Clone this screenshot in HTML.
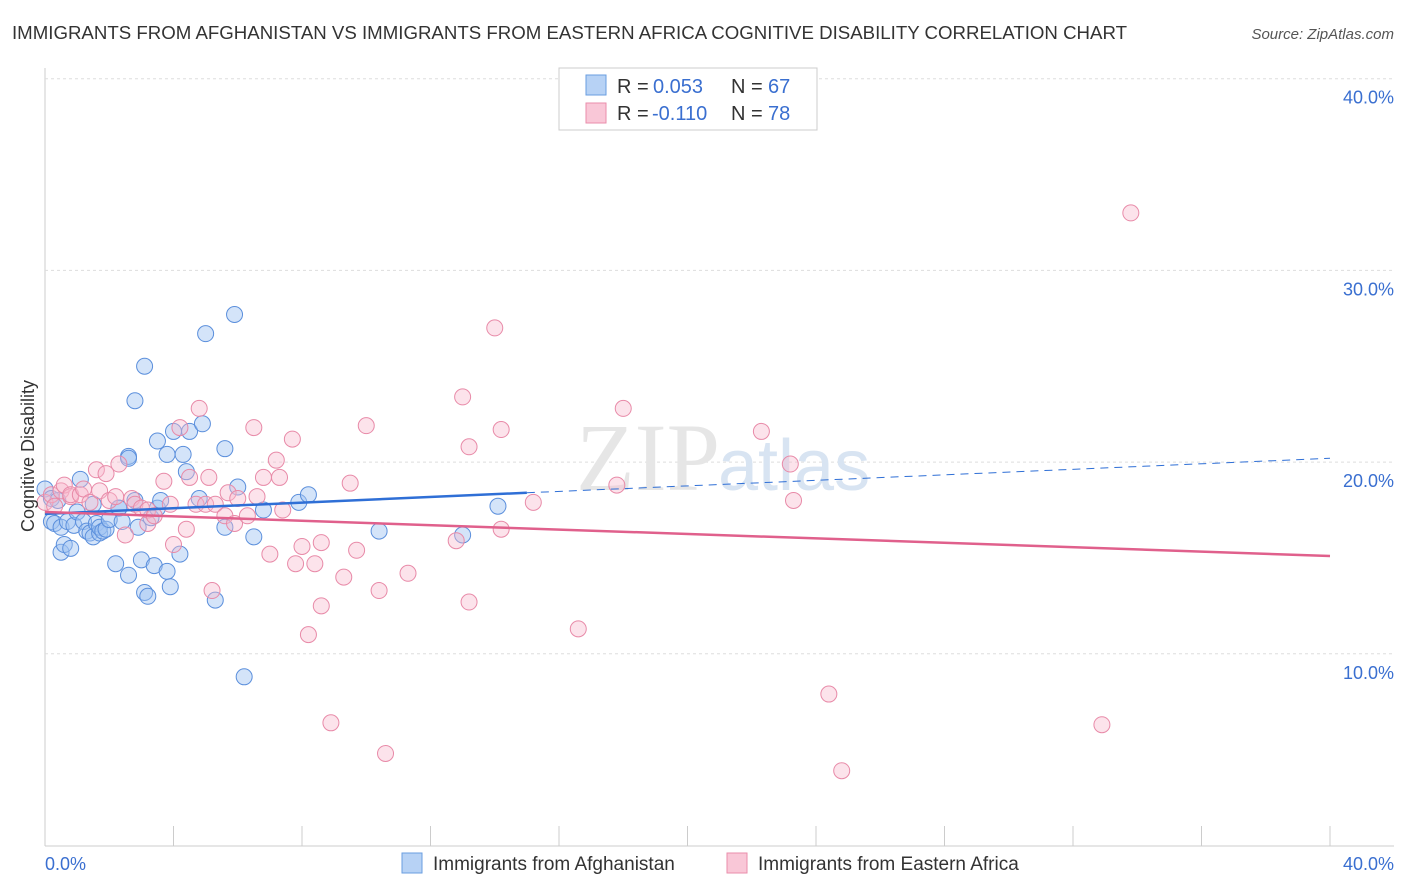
<!DOCTYPE html>
<html><head><meta charset="utf-8"><style>
body{margin:0;background:#fff;font-family:"Liberation Sans",sans-serif;}
svg{display:block}
</style></head><body>
<svg id="chart" width="1406" height="892">
<text x="12" y="39" font-size="18" fill="#333" textLength="1115" lengthAdjust="spacingAndGlyphs">IMMIGRANTS FROM AFGHANISTAN VS IMMIGRANTS FROM EASTERN AFRICA COGNITIVE DISABILITY CORRELATION CHART</text>
<text x="1394" y="39" font-size="15" fill="#555" text-anchor="end" font-style="italic">Source: ZipAtlas.com</text>
<g id="grid"></g>
<text x="720" y="490" font-size="96" fill="#e6e6e6" text-anchor="end" font-family="Liberation Serif">ZIP</text>
<text x="718" y="490" font-size="72" fill="#d8e4f2">atlas</text>
<g id="pts"></g>
<text transform="translate(34,456) rotate(-90)" font-size="18" fill="#333" text-anchor="middle">Cognitive Disability</text>
<text x="45" y="870" font-size="18" fill="#3a6fd0">0.0%</text>
<text x="1394" y="870" font-size="18" fill="#3a6fd0" text-anchor="end">40.0%</text>
<g>
<rect x="559" y="68" width="258" height="62" fill="#fff" stroke="#ccc"/>
<rect x="586" y="75" width="20" height="20" fill="#b7d2f5" stroke="#6a9ee0"/>
<rect x="586" y="103" width="20" height="20" fill="#f9c7d7" stroke="#ea8eab"/>
<text x="617" y="93" font-size="20" fill="#333">R =</text>
<text x="653" y="93" font-size="20" fill="#3a6fd0">0.053</text>
<text x="731" y="93" font-size="20" fill="#333">N =</text>
<text x="768" y="93" font-size="20" fill="#3a6fd0">67</text>
<text x="617" y="120" font-size="20" fill="#333">R =</text>
<text x="652" y="120" font-size="20" fill="#3a6fd0">-0.110</text>
<text x="731" y="120" font-size="20" fill="#333">N =</text>
<text x="768" y="120" font-size="20" fill="#3a6fd0">78</text>
</g>
<g>
<rect x="402" y="853" width="20" height="20" fill="#b7d2f5" stroke="#6a9ee0"/>
<text x="433" y="870" font-size="19" fill="#333">Immigrants from Afghanistan</text>
<rect x="727" y="853" width="20" height="20" fill="#f9c7d7" stroke="#ea8eab"/>
<text x="758" y="870" font-size="19" fill="#333">Immigrants from Eastern Africa</text>
</g>
</svg>
<script>
const yTicks=[10,20,30,40];
const xTicks=[0,4,8,12,16,20,24,28,32,36,40];
const blueX=[0,0.2,0.2,0.3,0.4,0.5,0.5,0.6,0.7,0.8,0.9,1.0,1.1,1.2,1.3,1.4,1.5,1.5,1.6,1.7,1.7,1.8,1.9,2.0,2.2,2.3,2.3,2.4,2.6,2.6,2.6,2.8,2.8,2.9,3.0,3.1,3.1,3.2,3.3,3.4,3.5,3.5,3.6,3.8,3.8,3.9,4.0,4.2,4.3,4.4,4.5,4.8,4.9,5.0,5.3,5.6,5.6,5.9,6.0,6.2,6.5,6.8,7.9,8.2,10.4,13.0,14.1];
const blueY=[18.6,18.1,16.9,16.8,18.0,16.6,15.3,15.7,16.9,15.5,16.7,17.4,19.1,16.9,16.4,16.3,17.8,16.1,16.8,16.3,16.6,16.4,16.5,17.0,14.7,17.6,17.6,16.9,20.3,14.1,20.2,18.0,23.2,16.6,14.9,13.2,25.0,13.0,17.1,14.6,21.1,17.6,18.0,20.4,14.3,13.5,21.6,15.2,20.4,19.5,21.6,18.1,22.0,26.7,12.8,16.6,20.7,27.7,18.7,8.8,16.1,17.5,17.9,18.3,16.4,16.2,17.7];
const pinkX=[0,0.2,0.3,0.5,0.6,0.8,0.8,1.1,1.2,1.4,1.6,1.7,1.9,2.0,2.2,2.3,2.5,2.7,2.8,3.0,3.2,3.2,3.4,3.7,3.9,4.0,4.2,4.4,4.5,4.7,4.8,5.0,5.1,5.2,5.3,5.6,5.7,5.9,6.0,6.3,6.5,6.6,6.8,7.0,7.2,7.3,7.4,7.7,7.8,8.0,8.2,8.4,8.6,8.6,8.9,9.3,9.5,9.7,10.0,10.4,10.6,11.3,12.8,13.0,13.2,13.2,14.0,14.2,14.2,15.2,16.6,17.8,18.0,22.3,23.2,23.3,24.4,24.8,32.9,33.8];
const pinkY=[17.9,18.3,17.7,18.5,18.8,18.2,18.3,18.3,18.6,17.9,19.6,18.5,19.4,18.0,18.2,19.9,16.2,18.1,17.8,17.6,16.8,17.5,17.2,19.0,17.8,15.7,21.8,16.5,19.2,17.8,22.8,17.8,19.2,13.3,17.8,17.2,18.4,16.8,18.1,17.2,21.8,18.2,19.2,15.2,20.1,19.2,17.5,21.2,14.7,15.6,11.0,14.7,12.5,15.8,6.4,14.0,18.9,15.4,21.9,13.3,4.8,14.2,15.9,23.4,20.8,12.7,27.0,21.7,16.5,17.9,11.3,18.8,22.8,21.6,19.9,18.0,7.9,3.9,6.3,33.0];
const blueTrend=[[0,17.3],[15,18.4],[40,20.2]];
const pinkTrend=[[0,17.4],[40,15.1]];
const X=v=>45+v/40*1285, Y=v=>845.5-v*19.17;
const NS='http://www.w3.org/2000/svg';
const grid=document.getElementById('grid'), pts=document.getElementById('pts');
function mk(tag,at,parent){const e=document.createElementNS(NS,tag);for(const k in at)e.setAttribute(k,at[k]);parent.appendChild(e);return e;}
let l=mk('line',{x1:45,x2:45,y1:68,y2:846,stroke:'#ccc'},grid);


l=mk('line',{x1:45,x2:1394,y1:846,y2:846,stroke:'#ccc'},grid);


yTicks.forEach(t=>{const g=mk('line',{x1:45,x2:1394,y1:Y(t),y2:Y(t),stroke:'#ddd','stroke-dasharray':'3,3'},grid);


const tx=mk('text',{x:1394,y:Y(t)+25,'font-size':18,fill:'#3a6fd0','text-anchor':'end'},grid);tx.textContent=t.toFixed(1)+'%';

});
xTicks.forEach(t=>{const k=mk('line',{x1:X(t),x2:X(t),y1:826,y2:846,stroke:'#ccc'},grid);

});
blueX.forEach((v,i)=>{const c=mk('circle',{cx:X(v),cy:Y(blueY[i]),r:8,fill:'rgba(160,196,242,0.45)',stroke:'#5b8fdc','stroke-width':1},pts);

});
pinkX.forEach((v,i)=>{const c=mk('circle',{cx:X(v),cy:Y(pinkY[i]),r:8,fill:'rgba(247,185,205,0.4)',stroke:'#e88aa8','stroke-width':1},pts);

});
let t=mk('line',{x1:X(blueTrend[0][0]),y1:Y(blueTrend[0][1]),x2:X(blueTrend[1][0]),y2:Y(blueTrend[1][1]),stroke:'#2f6fd6','stroke-width':2.5},pts);


t=mk('line',{x1:X(blueTrend[1][0]),y1:Y(blueTrend[1][1]),x2:X(blueTrend[2][0]),y2:Y(blueTrend[2][1]),stroke:'#2f6fd6','stroke-width':1,'stroke-dasharray':'8,6'},pts);


t=mk('line',{x1:X(pinkTrend[0][0]),y1:Y(pinkTrend[0][1]),x2:X(pinkTrend[1][0]),y2:Y(pinkTrend[1][1]),stroke:'#e0608c','stroke-width':2.5},pts);


</script>
</body></html>
